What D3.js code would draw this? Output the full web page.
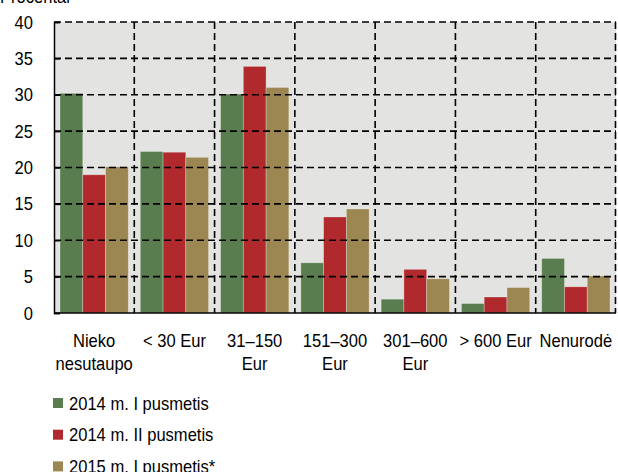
<!DOCTYPE html>
<html>
<head>
<meta charset="utf-8">
<script src="https://cdn.jsdelivr.net/npm/d3@7"></script>
<style>
  body { margin: 0; background: #fff; }
  text { font-family: "Liberation Sans", Arial, sans-serif; fill: #000; }
</style>
</head>
<body>
<div id="chart"></div>
<script>
    var width = 618,
        height = 472,
        fontSize = 18,
        squeeze = 0.92;

    var categories = [["Nieko", "nesutaupo"], ["< 30 Eur"], ["31–150", "Eur"], ["151–300", "Eur"], ["301–600", "Eur"], ["> 600 Eur"], ["Nenurodė"]];
    var seriesNames = ["2014 m. I pusmetis", "2014 m. II pusmetis", "2015 m. I pusmetis*"];
    var series1 = [30.2, 22.2, 30.1, 6.9, 1.9, 1.3, 7.5];
    var series2 = [19.0, 22.1, 33.9, 13.2, 6.0, 2.2, 3.6];
    var series3 = [20.1, 21.4, 31.0, 14.3, 4.7, 3.5, 5.1];
    var yTicks = [0, 5, 10, 15, 20, 25, 30, 35, 40];
    var colors = ["#5a7d4f", "#b02a2d", "#9c8652"];

    var allSeries = [series1, series2, series3];

    var margin = {left: 54, right: 2, top: 22, bottom: 159};
    var plotW = width - margin.left - margin.right,
        plotH = height - margin.top - margin.bottom;

    // places a horizontally squeezed text at (x, y)
    function squeezed(sel, x, y) {
        return sel.attr('transform', 'translate(' + x + ',' + y + ') scale(' + squeeze + ',1)')
            .attr('font-size', fontSize + 'px');
    }

    var svg = d3.select('#chart')
        .append('svg')
        .attr('width', width)
        .attr('height', height);

    var g = svg.append('g')
        .attr('transform', 'translate(' + margin.left + ',' + margin.top + ')');

    var x = d3.scaleBand()
        .domain(d3.range(categories.length))
        .range([0, plotW]);

    var xInner = d3.scaleBand()
        .domain(d3.range(allSeries.length))
        .range([6, x.bandwidth() - 6]);

    var y = d3.scaleLinear()
        .domain([0, 40])
        .range([plotH, 0]);

    // plot background
    g.append('rect')
        .attr('width', plotW)
        .attr('height', plotH)
        .attr('fill', '#e3e4e1');

    // bars
    allSeries.forEach(function(values, s) {
        g.selectAll('.bar' + s)
            .data(values)
            .enter().append('rect')
            .attr('x', function(d, i) { return x(i) + xInner(s); })
            .attr('y', function(d) { return y(d); })
            .attr('width', xInner.bandwidth())
            .attr('height', function(d) { return plotH - y(d); })
            .attr('fill', colors[s])
            .attr('stroke', '#ffffff')
            .attr('stroke-opacity', 0.35)
            .attr('stroke-width', 0.8);
    });

    // horizontal dashed grid
    g.selectAll('.hgrid')
        .data(yTicks.filter(function(d) { return d > 0; }))
        .enter().append('line')
        .attr('x1', 0)
        .attr('x2', plotW)
        .attr('y1', function(d) { return y(d); })
        .attr('y2', function(d) { return y(d); })
        .attr('stroke', '#000')
        .attr('stroke-width', 1.6)
        .attr('stroke-dasharray', '7,4');

    // vertical dashed grid at category boundaries
    g.selectAll('.vgrid')
        .data(d3.range(1, categories.length + 1))
        .enter().append('line')
        .attr('x1', function(d) { return d === categories.length ? plotW - 0.5 : x(d); })
        .attr('x2', function(d) { return d === categories.length ? plotW - 0.5 : x(d); })
        .attr('y1', 0)
        .attr('y2', plotH)
        .attr('stroke', '#000')
        .attr('stroke-width', 1.6)
        .attr('stroke-dasharray', '7,4');

    // y axis
    var yAxis = d3.axisLeft(y)
        .tickValues(yTicks)
        .tickSize(-6)
        .tickFormat(d3.format('d'));

    var ya = g.append('g').call(yAxis);
    ya.select('.domain').attr('stroke', '#000').attr('stroke-width', 1.5);
    ya.selectAll('.tick line').attr('stroke', '#000').attr('stroke-width', 1.5);
    ya.selectAll('.tick text').remove();
    ya.selectAll('.tick').append('text')
        .call(squeezed, -21, 6)
        .attr('text-anchor', 'end')
        .style('font-family', '"Liberation Sans", Arial, sans-serif')
        .attr('fill', '#000')
        .text(function(d) { return d; });

    // x axis line
    g.append('line')
        .attr('x1', 0)
        .attr('x2', plotW)
        .attr('y1', plotH)
        .attr('y2', plotH)
        .attr('stroke', '#000')
        .attr('stroke-width', 1.5);

    // category labels
    g.selectAll('.xlabel')
        .data(categories)
        .enter().append('text')
        .each(function(d, i) {
            d3.select(this).call(squeezed, x(i) + x.bandwidth() / 2, plotH + 34);
        })
        .attr('text-anchor', 'middle')
        .selectAll('tspan')
        .data(function(d) { return d; })
        .enter().append('tspan')
        .attr('x', 0)
        .attr('dy', function(d, i) { return i === 0 ? 0 : 23; })
        .text(function(d) { return d; });

    // unit label (partially cut at top)
    svg.append('text')
        .call(squeezed, 0, 3)
        .text('Procentai');

    // legend
    var legend = svg.selectAll('.legend')
        .data(seriesNames)
        .enter().append('g')
        .attr('transform', function(d, i) { return 'translate(53,' + (403 + i * 31.7) + ')'; });

    legend.append('rect')
        .attr('x', 0)
        .attr('y', -5)
        .attr('width', 10)
        .attr('height', 10)
        .attr('fill', function(d, i) { return colors[i]; });

    legend.append('text')
        .call(squeezed, 16, 6.5)
        .text(function(d) { return d; });
</script>
</body>
</html>
